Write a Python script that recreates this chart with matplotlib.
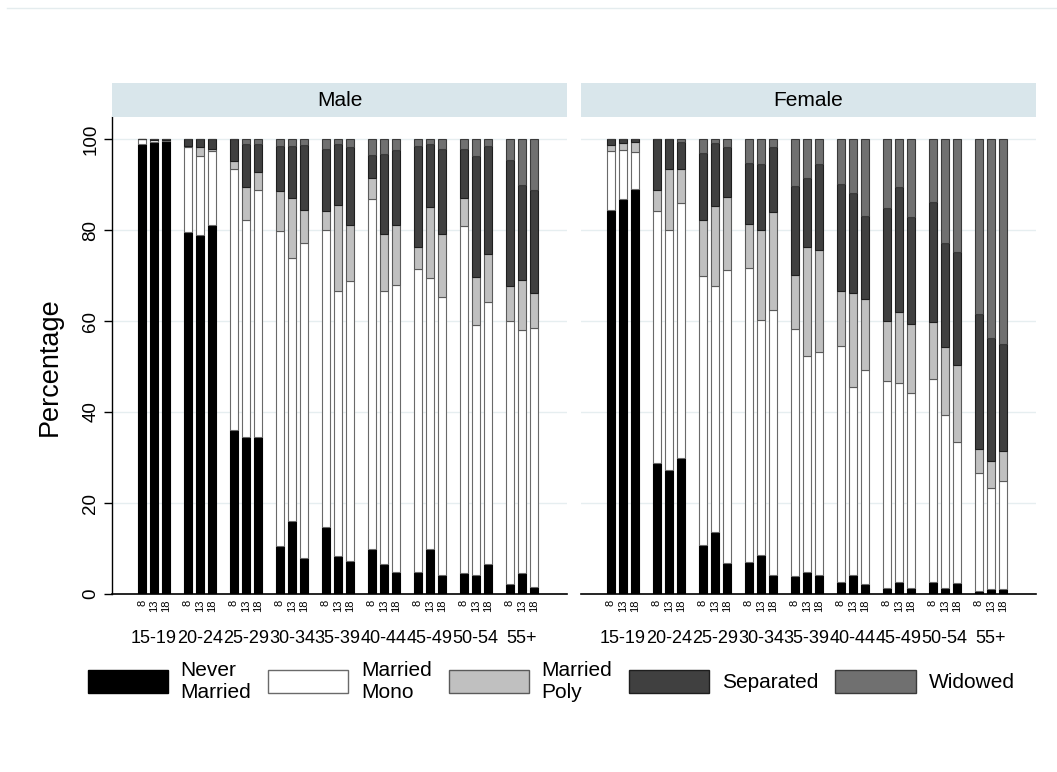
import numpy as np
import matplotlib
matplotlib.use("Agg")
import matplotlib.pyplot as plt
from matplotlib.patches import Patch
from matplotlib.lines import Line2D

plt.rcParams["font.family"] = ["Liberation Sans", "DejaVu Sans"]

ages = ["15-19", "20-24", "25-29", "30-34", "35-39", "40-44", "45-49", "50-54", "55+"]
waves = ["8", "13", "18"]
categories = ["Never\nMarried", "Married\nMono", "Married\nPoly", "Separated", "Widowed"]
colors = ["#000000", "#ffffff", "#c0c0c0", "#404040", "#707070"]
edges = ["#000000", "#6a6a6a", "#5a5a5a", "#1e1e1e", "#3a3a3a"]

# values ordered by age group, then wave 8 / 13 / 18
male_never = [99.0, 99.4, 99.6, 79.5, 78.9, 81.2, 36.1, 34.5, 34.6, 10.5, 16.1, 8.0, 14.7, 8.3, 7.2,
              9.8, 6.6, 4.9, 4.9, 9.8, 4.1, 4.6, 4.1, 6.7, 2.2, 4.6, 1.6]
male_mono = [0.9, 0.4, 0.1, 18.7, 17.3, 16.2, 57.3, 47.8, 54.3, 69.2, 57.7, 69.1, 65.2, 58.3, 61.7,
             77.1, 60.0, 63.1, 66.5, 59.6, 61.1, 76.3, 55.0, 57.4, 57.7, 53.5, 56.9]
male_poly = [0.0, 0.0, 0.0, 0.3, 2.1, 0.5, 1.8, 7.2, 3.8, 8.9, 13.3, 7.4, 4.3, 18.9, 12.2,
             4.6, 12.6, 13.1, 4.8, 15.7, 14.0, 6.2, 10.5, 10.6, 7.8, 11.0, 7.7]
male_sep = [0.1, 0.2, 0.3, 1.5, 1.7, 2.1, 4.8, 9.4, 6.2, 9.9, 11.4, 14.2, 13.7, 13.5, 17.1,
            5.0, 17.6, 16.5, 22.3, 13.8, 18.6, 10.8, 26.6, 23.8, 27.7, 20.7, 22.7]
male_wid = [0.0, 0.0, 0.0, 0.0, 0.0, 0.0, 0.0, 1.1, 1.1, 1.5, 1.5, 1.3, 2.1, 1.0, 1.8,
            3.5, 3.2, 2.4, 1.5, 1.1, 2.2, 2.1, 3.8, 1.5, 4.6, 10.2, 11.1]

female_never = [84.3, 86.9, 89.1, 28.7, 27.2, 29.8, 10.7, 13.6, 6.8, 7.1, 8.6, 4.1, 3.9, 4.9, 4.2,
                2.6, 4.2, 2.1, 1.3, 2.7, 1.4, 2.6, 1.3, 2.4, 0.7, 1.0, 1.1]
female_mono = [13.0, 10.7, 8.1, 55.4, 52.7, 56.1, 59.3, 54.1, 64.4, 64.6, 51.6, 58.3, 54.3, 47.5, 49.0,
               51.8, 41.2, 47.2, 45.6, 43.7, 42.8, 44.6, 38.1, 31.1, 26.0, 22.3, 23.8]
female_poly = [1.4, 1.6, 2.2, 4.8, 13.4, 7.4, 12.3, 17.6, 16.1, 9.7, 19.9, 21.6, 12.0, 23.8, 22.3,
               12.2, 20.7, 15.6, 13.0, 15.5, 15.2, 12.5, 14.9, 16.8, 5.2, 5.9, 6.5]
female_sep = [1.3, 0.8, 0.6, 11.1, 6.7, 6.1, 14.7, 13.9, 10.9, 13.4, 14.5, 14.3, 19.5, 15.3, 19.1,
              23.6, 22.1, 18.2, 24.9, 27.6, 23.4, 26.5, 22.9, 24.9, 29.6, 27.1, 23.6]
female_wid = [0.0, 0.0, 0.0, 0.0, 0.0, 0.6, 3.0, 0.8, 1.8, 5.2, 5.4, 1.7, 10.3, 8.5, 5.4,
              9.8, 11.8, 16.9, 15.2, 10.5, 17.2, 13.8, 22.8, 24.8, 38.5, 43.7, 45.0]

panels = [("Male", [male_never, male_mono, male_poly, male_sep, male_wid]),
          ("Female", [female_never, female_mono, female_poly, female_sep, female_wid])]

W, H = 1057, 772
fig = plt.figure(figsize=(W / 100, H / 100), dpi=100)

group_step = 3.83
pos = np.array([g * group_step + k for g in range(len(ages)) for k in range(len(waves))])
centers = np.array([g * group_step + 1 for g in range(len(ages))])
ytop = 100 * (594 - 117) / 455

for i, (title, series) in enumerate(panels):
    left = 112 + i * 469
    ax = fig.add_axes([left / W, (H - 594) / H, 455 / W, (594 - 117) / H])
    bottom = np.zeros(len(pos))
    for vals, c, ec in zip(series, colors, edges):
        ax.bar(pos, vals, width=0.66, bottom=bottom, color=c, edgecolor=ec, linewidth=0.8, zorder=3)
        bottom += np.array(vals)
    ax.set_xlim(-2.5, -2.5 + 455 / 12)
    ax.set_ylim(0, ytop)
    ax.set_yticks([0, 20, 40, 60, 80, 100])
    for y in [20, 40, 60, 80, 100]:
        ax.axhline(y, color="#e6eef0", lw=1.0, zorder=1)
    ax.set_xticks(pos)
    ax.set_xticklabels(waves * len(ages), rotation=90, fontsize=8)
    ax.tick_params(axis="x", length=0, pad=4)
    for s in ["top", "right"]:
        ax.spines[s].set_visible(False)
    ax.spines["bottom"].set_linewidth(1.2)
    if i == 0:
        ax.spines["left"].set_linewidth(1.0)
        ax.tick_params(axis="y", length=6, width=1.0, labelsize=13.5, pad=3)
        plt.setp(ax.get_yticklabels(), rotation=90, va="center")
        ax.set_ylabel("Percentage", fontsize=19.5)
        ax.yaxis.set_label_coords(-0.108, 50 / ytop)
    else:
        ax.spines["left"].set_visible(False)
        ax.tick_params(axis="y", length=0, labelleft=False)
    for c, a in zip(centers, ages):
        ax.text(c, -0.094, a, transform=ax.get_xaxis_transform(), ha="center", va="center", fontsize=13)

    sx = fig.add_axes([left / W, (H - 117) / H, 455 / W, 34 / H])
    sx.set_facecolor("#d9e6eb")
    sx.set_xticks([])
    sx.set_yticks([])
    for s in sx.spines.values():
        s.set_visible(False)
    sx.text(0.5, 0.5, title, ha="center", va="center", fontsize=15, transform=sx.transAxes)

fig.add_artist(Line2D([7 / W, 1], [1 - 8 / H, 1 - 8 / H], color="#e4ecee", lw=1))

handles = [Patch(facecolor=c, edgecolor=ec, linewidth=1) for c, ec in zip(colors, edges)]
fig.legend(handles, categories, loc="center", bbox_to_anchor=(551 / W, 1 - 681 / H), ncol=5,
           frameon=False, fontsize=15, handlelength=3.85, handleheight=1.3,
           columnspacing=0.8, handletextpad=0.62, labelspacing=0.2)

fig.savefig("out.png", dpi=100)
